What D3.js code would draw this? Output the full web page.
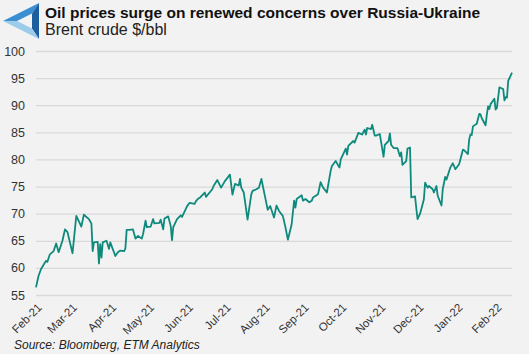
<!DOCTYPE html>
<html>
<head>
<meta charset="utf-8">
<script src="https://cdn.jsdelivr.net/npm/d3@7"></script>
<style>
  html, body { margin: 0; padding: 0; background: #f2f2f2; }
  svg { display: block; font-family: "Liberation Sans", Arial, sans-serif; }
</style>
</head>
<body>
<div id="chart"></div>
<script>
// Brent crude, $/bbl
const dates = [
  "2021-02-01","2021-02-03","2021-02-05","2021-02-09","2021-02-10","2021-02-12","2021-02-15","2021-02-17","2021-02-19","2021-02-22","2021-02-24","2021-02-26",
  "2021-03-02","2021-03-05","2021-03-09","2021-03-11","2021-03-15","2021-03-17","2021-03-18","2021-03-19","2021-03-22","2021-03-23","2021-03-24","2021-03-25","2021-03-26","2021-03-29","2021-03-31",
  "2021-04-01","2021-04-05","2021-04-07","2021-04-09","2021-04-12","2021-04-13","2021-04-14","2021-04-16","2021-04-19","2021-04-21","2021-04-23","2021-04-26","2021-04-27","2021-04-29","2021-04-30",
  "2021-05-03","2021-05-05","2021-05-06","2021-05-10","2021-05-11","2021-05-13","2021-05-14","2021-05-17","2021-05-19","2021-05-20","2021-05-21","2021-05-24","2021-05-27","2021-05-28",
  "2021-06-01","2021-06-03","2021-06-07","2021-06-08","2021-06-10","2021-06-11","2021-06-15","2021-06-16","2021-06-21","2021-06-22","2021-06-25","2021-06-28",
  "2021-07-01","2021-07-05","2021-07-07","2021-07-09","2021-07-12","2021-07-13","2021-07-14","2021-07-16","2021-07-19","2021-07-22","2021-07-23","2021-07-26","2021-07-28","2021-07-30",
  "2021-08-02","2021-08-04","2021-08-06","2021-08-09","2021-08-11","2021-08-13","2021-08-16","2021-08-18","2021-08-20","2021-08-23","2021-08-25","2021-08-26","2021-08-27","2021-08-31",
  "2021-09-01","2021-09-03","2021-09-06","2021-09-08","2021-09-09","2021-09-13","2021-09-15","2021-09-17","2021-09-20","2021-09-23","2021-09-24","2021-09-27","2021-09-30",
  "2021-10-01","2021-10-05","2021-10-06","2021-10-07","2021-10-11","2021-10-12","2021-10-15","2021-10-18","2021-10-20","2021-10-21","2021-10-22","2021-10-25","2021-10-26","2021-10-28","2021-10-29",
  "2021-11-01","2021-11-04","2021-11-05","2021-11-08","2021-11-09","2021-11-10","2021-11-12","2021-11-15","2021-11-17","2021-11-18","2021-11-19","2021-11-22","2021-11-23","2021-11-25","2021-11-26","2021-11-29","2021-11-30",
  "2021-12-01","2021-12-03","2021-12-06","2021-12-07","2021-12-09","2021-12-10","2021-12-13","2021-12-14","2021-12-16","2021-12-17","2021-12-20","2021-12-21","2021-12-23","2021-12-24","2021-12-27","2021-12-29","2021-12-31",
  "2022-01-03","2022-01-04","2022-01-06","2022-01-07","2022-01-10","2022-01-11","2022-01-12","2022-01-13","2022-01-14","2022-01-17","2022-01-18","2022-01-19","2022-01-20","2022-01-21","2022-01-24","2022-01-25","2022-01-26","2022-01-27","2022-01-28","2022-01-31",
  "2022-02-01","2022-02-02","2022-02-04","2022-02-07","2022-02-08","2022-02-09","2022-02-10","2022-02-11","2022-02-14"
];
const prices = [
  56.4,58.5,59.8,61.3,61.1,62.5,63.1,64.5,62.9,65.0,67.1,66.6,
  62.7,69.6,67.6,69.8,69.0,68.2,63.1,64.7,64.8,60.8,64.4,61.9,64.7,65.0,63.5,
  64.7,62.2,62.9,63.2,63.1,63.6,67.0,67.0,67.1,65.4,65.9,65.4,66.2,68.7,67.5,
  67.6,69.0,68.2,68.3,68.9,67.1,69.1,69.5,67.7,65.1,67.5,69.0,69.7,69.4,
  71.4,72.0,71.8,72.3,72.8,72.9,73.9,73.1,74.5,75.1,76.2,74.8,
  76.0,77.2,73.5,75.5,75.2,76.4,74.8,73.9,68.9,73.6,74.2,74.5,74.8,76.4,
  73.0,70.7,71.4,69.3,71.5,70.5,69.6,67.6,65.2,68.0,72.4,71.1,72.7,73.4,
  72.4,72.7,72.1,72.4,73.0,73.6,75.8,74.8,73.9,77.9,78.8,79.7,78.5,
  80.0,82.0,80.9,82.5,83.4,83.1,84.9,84.6,85.5,84.6,85.8,85.6,86.4,84.4,84.4,
  84.7,80.5,82.7,83.4,84.8,82.7,82.1,82.1,80.6,81.3,79.0,79.7,82.0,82.2,73.0,73.2,71.0,
  69.0,70.0,72.6,75.7,74.8,75.1,74.5,73.9,75.1,73.3,71.5,74.5,76.8,76.3,78.5,79.3,78.2,
  79.1,80.0,81.8,81.7,81.0,83.7,84.6,84.5,86.1,86.6,87.5,88.4,88.3,87.6,86.3,88.2,89.8,89.3,90.2,91.2,
  89.2,89.5,93.3,93.0,90.9,91.5,91.4,94.5,96.0
];
const yTicks = [55, 60, 65, 70, 75, 80, 85, 90, 95, 100];

const title = "Oil prices surge on renewed concerns over Russia-Ukraine";
const subtitle = "Brent crude $/bbl";
const source = "Source: Bloomberg, ETM Analytics";

const W = 529, H = 354;
const margin = { top: 51, right: 17, bottom: 58, left: 36 };
const innerW = W - margin.left - margin.right;
const innerH = H - margin.top - margin.bottom;

const parse = d3.timeParse("%Y-%m-%d");
const data = dates.map((d, i) => ({ date: parse(d), value: prices[i] }));

const svg = d3.select("#chart").append("svg")
  .attr("width", W)
  .attr("height", H);

svg.append("rect").attr("width", W).attr("height", H).attr("fill", "#f2f2f2");

// logo: hollow triangle pointing left, three shaded bands
const logo = svg.append("g").attr("transform", "translate(3,3)");
logo.append("polygon").attr("points", "0,18 36,0 29,10.5 14,18").attr("fill", "#3b8ed2");
logo.append("polygon").attr("points", "36,0 36,36 29,25.5 29,10.5").attr("fill", "#1d5f9e");
logo.append("polygon").attr("points", "36,36 0,18 14,18 29,25.5").attr("fill", "#9dcbec");

svg.append("text")
  .attr("x", 45).attr("y", 18)
  .style("font-size", "15.5px")
  .style("font-weight", "700")
  .style("fill", "#111")
  .text(title);

svg.append("text")
  .attr("x", 45).attr("y", 35)
  .style("font-size", "16px")
  .style("fill", "#222")
  .text(subtitle);

const g = svg.append("g")
  .attr("transform", `translate(${margin.left},${margin.top})`);

const x = d3.scaleTime()
  .domain(d3.extent(data, d => d.date))
  .range([0, innerW]);

const y = d3.scaleLinear()
  .domain([55, 100])
  .range([innerH - 1, 0]);

// gridlines
g.append("g")
  .call(d3.axisLeft(y).tickValues(yTicks).tickSize(-innerW).tickFormat(""))
  .call(g => g.select(".domain").remove())
  .call(g => g.selectAll("line").attr("stroke", "#d9d9d9").attr("stroke-width", 1.3));

// y labels
g.append("g")
  .call(d3.axisLeft(y).tickValues(yTicks).tickSize(0).tickPadding(11))
  .call(g => g.select(".domain").remove())
  .selectAll("text")
  .style("font-family", "'Liberation Sans', Arial, sans-serif")
  .style("font-size", "12.5px")
  .style("fill", "#333");

// x labels, rotated
const months = d3.timeMonth.range(new Date(2021, 1, 1), new Date(2022, 1, 2));
g.append("g")
  .attr("transform", `translate(0,${innerH})`)
  .call(d3.axisBottom(x).tickValues(months).tickFormat(d3.timeFormat("%b-%y")).tickSize(0))
  .call(g => g.select(".domain").remove())
  .selectAll("text")
  .style("font-family", "'Liberation Sans', Arial, sans-serif")
  .style("font-size", "11.5px")
  .style("fill", "#333")
  .attr("text-anchor", "end")
  .attr("dx", 0).attr("dy", 0)
  .attr("transform", "translate(4,10) rotate(-45)");

// line
const line = d3.line()
  .x(d => x(d.date))
  .y(d => y(d.value));

g.append("path")
  .datum(data)
  .attr("fill", "none")
  .attr("stroke", "#0e8a7d")
  .attr("stroke-width", 1.8)
  .attr("stroke-linejoin", "round")
  .attr("d", line);

svg.append("text")
  .attr("x", 14).attr("y", 349)
  .style("font-size", "12px")
  .style("font-style", "italic")
  .style("fill", "#222")
  .text(source);
</script>
</body>
</html>
